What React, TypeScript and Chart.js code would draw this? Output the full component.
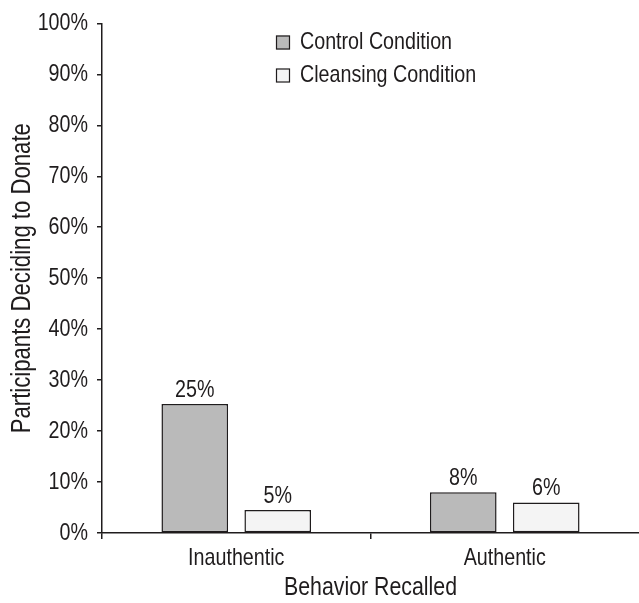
import React, { useEffect, useRef } from "react";
import { Chart, registerables } from "chart.js";

Chart.register(...registerables);

const categories = ["Inauthentic", "Authentic"];
const seriesNames = ["Control Condition", "Cleansing Condition"];
const controlValues = [25.3, 8.0];
const cleansingValues = [4.5, 6.0];
const controlLabels = ["25%", "8%"];
const cleansingLabels = ["5%", "6%"];
const valueLabels = [controlLabels, cleansingLabels];
const yTickStep = 10;
const yMin = 0;
const yMax = 100;

const DARK = "#1f1c1d";
const FONT = "'Liberation Sans', Arial, sans-serif";
const CONDENSE = 0.82;

// Emulate a condensed sans (Arial Narrow style) by compressing text horizontally
function condenseContext(ctx: any) {
  if (ctx.__condensed) return;
  ctx.__condensed = true;
  const fill = ctx.fillText.bind(ctx);
  const measure = ctx.measureText.bind(ctx);
  ctx.fillText = (text: string, x: number, y: number) => {
    ctx.save();
    ctx.translate(x, y);
    ctx.scale(CONDENSE, 1);
    fill(text, 0, 0);
    ctx.restore();
  };
  ctx.measureText = (text: string) => {
    const m = measure(text);
    return {
      width: m.width * CONDENSE,
      actualBoundingBoxLeft: m.actualBoundingBoxLeft * CONDENSE,
      actualBoundingBoxRight: m.actualBoundingBoxRight * CONDENSE,
      actualBoundingBoxAscent: m.actualBoundingBoxAscent,
      actualBoundingBoxDescent: m.actualBoundingBoxDescent,
      fontBoundingBoxAscent: m.fontBoundingBoxAscent,
      fontBoundingBoxDescent: m.fontBoundingBoxDescent,
    };
  };
}

const valueLabelPlugin = {
  id: "valueLabels",
  afterDatasetsDraw(chart: any) {
    const ctx = chart.ctx;
    ctx.save();
    ctx.font = `24px ${FONT}`;
    ctx.fillStyle = DARK;
    ctx.textAlign = "center";
    ctx.textBaseline = "alphabetic";
    chart.data.datasets.forEach((ds: any, di: number) => {
      const meta = chart.getDatasetMeta(di);
      meta.data.forEach((bar: any, i: number) => {
        ctx.fillText(valueLabels[di][i], bar.x, bar.y - 7);
      });
    });
    ctx.restore();
  },
};

const legendPlugin = {
  id: "customLegend",
  afterDraw(chart: any) {
    const ctx = chart.ctx;
    ctx.save();
    ctx.font = `24px ${FONT}`;
    ctx.textBaseline = "middle";
    ctx.textAlign = "left";
    const x0 = 276;
    const y0 = 42.5;
    const rowGap = 33;
    chart.data.datasets.forEach((ds: any, i: number) => {
      const cy = y0 + i * rowGap;
      ctx.fillStyle = ds.backgroundColor;
      ctx.fillRect(x0, cy - 7, 14, 14);
      ctx.strokeStyle = DARK;
      ctx.lineWidth = 1.2;
      ctx.strokeRect(x0 + 0.5, cy - 6.5, 13, 13);
      ctx.fillStyle = DARK;
      ctx.fillText(ds.label, x0 + 24, cy);
    });
    ctx.restore();
  },
};

export default function App() {
  const ref = useRef<HTMLCanvasElement | null>(null);
  useEffect(() => {
    if (!ref.current) return;
    const c2d = ref.current.getContext("2d");
    condenseContext(c2d);
    Chart.defaults.font.family = FONT;
    const chart = new Chart(ref.current, {
      type: "bar",
      data: {
        labels: categories,
        datasets: [
          {
            label: seriesNames[0],
            data: controlValues,
            backgroundColor: "#bababa",
            borderColor: DARK,
            borderWidth: 1.5,
            borderSkipped: false,
            barPercentage: 0.803,
            categoryPercentage: 0.618,
          },
          {
            label: seriesNames[1],
            data: cleansingValues,
            backgroundColor: "#f4f4f4",
            borderColor: DARK,
            borderWidth: 1.5,
            borderSkipped: false,
            barPercentage: 0.803,
            categoryPercentage: 0.618,
          },
        ],
      },
      options: {
        responsive: false,
        animation: false,
        layout: { padding: { top: 21, right: -3, bottom: 0, left: 0 } },
        plugins: {
          legend: { display: false },
          tooltip: { enabled: false },
        },
        scales: {
          x: {
            offset: true,
            grid: {
              display: true,
              drawOnChartArea: false,
              drawTicks: true,
              tickLength: 6,
              lineWidth: 1.5,
              color: (c: any) => (c.type === "tick" ? DARK : "rgba(0,0,0,0)"),
            },
            border: { display: true, color: DARK, width: 1.5 },
            ticks: { color: DARK, font: { size: 24 }, padding: 5 },
            title: {
              display: true,
              text: "Behavior Recalled",
              color: DARK,
              font: { size: 26 },
              padding: { top: 0, bottom: 0 },
            },
            afterFit: (s: any) => {
              s.height = 70;
            },
          },
          y: {
            min: yMin,
            max: yMax,
            grid: {
              display: true,
              drawOnChartArea: false,
              tickLength: 5,
              lineWidth: 1.5,
              color: DARK,
            },
            border: { display: true, color: DARK, width: 1.5 },
            ticks: {
              stepSize: yTickStep,
              color: DARK,
              font: { size: 24 },
              padding: 9,
              callback: (v: any) => `${v}%`,
            },
            title: {
              display: true,
              text: "Participants Deciding to Donate",
              color: DARK,
              font: { size: 27 },
              padding: { top: 6, bottom: 0 },
            },
            afterFit: (s: any) => {
              s.width = 102;
            },
          },
        },
      },
      plugins: [valueLabelPlugin, legendPlugin],
    });
    return () => chart.destroy();
  }, []);
  return (
    <div style={{ position: "absolute", left: 0, top: 0, width: 639, height: 603, background: "#fff" }}>
      <canvas ref={ref} width={639} height={603} style={{ display: "block" }} />
    </div>
  );
}
